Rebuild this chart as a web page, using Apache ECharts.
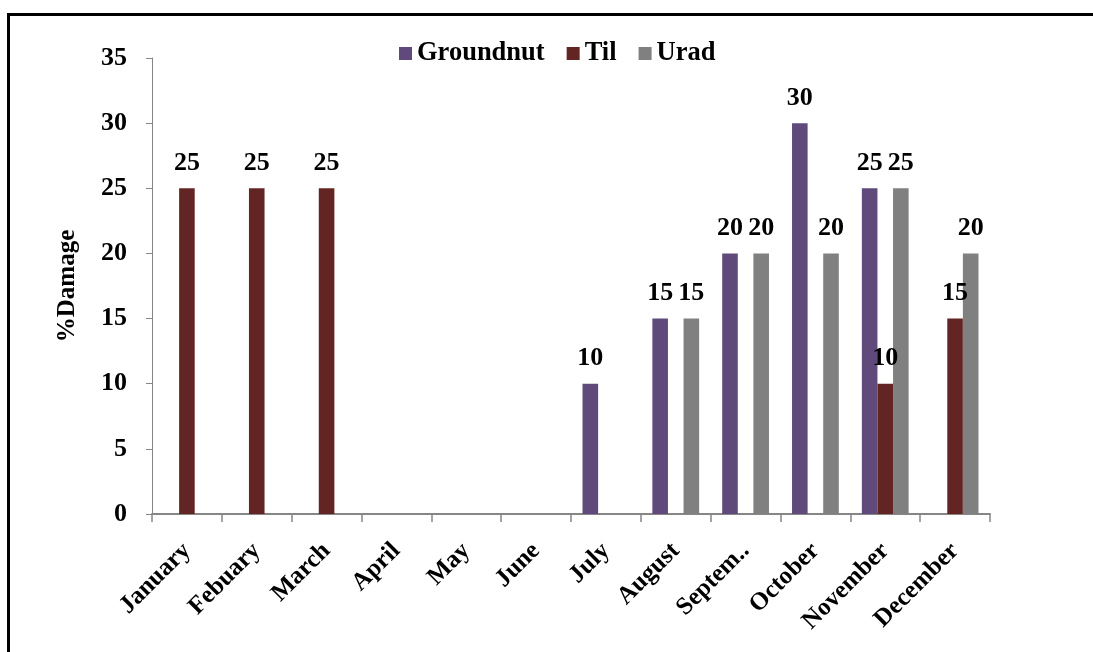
<!DOCTYPE html>
<html>
<head>
<meta charset="utf-8">
<script src="https://cdn.jsdelivr.net/npm/echarts@6/dist/echarts.min.js"></script>
<style>html,body{margin:0;padding:0;background:#fff;}#c{width:1093px;height:652px;}</style>
</head>
<body>
<div id="c"></div>
<script>
const categories = ['January','Febuary','March','April','May','June','July','August','Septem..','October','November','December'];
const groundnut = [null,null,null,null,null,null,10,15,20,30,25,null];
const til = [25,25,25,null,null,null,null,null,null,null,10,15];
const urad = [null,null,null,null,null,null,null,15,20,20,25,20];
const yTicks = [0,5,10,15,20,25,30,35];

const font = '"Liberation Serif", "Times New Roman", serif';
const chart = echarts.init(document.getElementById('c'), null, {renderer:'canvas'});
const lbl = {show:true, position:'top', distance:12, fontFamily:font, fontWeight:'bold', fontSize:26, color:'#000'};
function ser(name, data, color){
  return {name, type:'bar', data, itemStyle:{color}, barGap:'0%', barCategoryGap:'33%', label:lbl};
}
chart.setOption({
  animation:false,
  textStyle:{fontFamily:font},
  graphic:[{type:'rect', shape:{x:8.5,y:14.5,width:1200,height:800}, style:{fill:null, stroke:'#000', lineWidth:3}}],
  legend:{left:394, top:35, itemWidth:13, itemHeight:13, itemGap:22,
    textStyle:{fontFamily:font, fontWeight:'bold', fontSize:26.5, color:'#000'},
    icon:'rect', data:['Groundnut','Til','Urad']},
  grid:{left:152, top:58, right:103, bottom:138, containLabel:false},
  xAxis:{type:'category', data:categories, boundaryGap:true,
    axisLine:{lineStyle:{color:'#868686', width:2}},
    axisTick:{show:true, length:8, lineStyle:{color:'#868686', width:1.5}},
    axisLabel:{rotate:45, margin:33, fontFamily:font, fontWeight:'bold', fontSize:25, color:'#000', interval:0}},
  yAxis:{type:'value', min:0, max:35, interval:5,
    name:'%Damage', nameLocation:'middle', nameGap:72, nameRotate:90,
    nameTextStyle:{fontFamily:font, fontWeight:'bold', fontSize:25, color:'#000'},
    splitLine:{show:false},
    axisLine:{show:true, lineStyle:{color:'#868686', width:1}},
    axisTick:{show:true, length:6, lineStyle:{color:'#868686'}},
    axisLabel:{margin:25, fontFamily:font, fontWeight:'bold', fontSize:26, color:'#000',
      formatter:v => yTicks.includes(v) ? String(v) : ''}},
  series:[ser('Groundnut', groundnut, '#604A7B'), ser('Til', til, '#632523'), ser('Urad', urad, '#808080')]
});
</script>
</body>
</html>
